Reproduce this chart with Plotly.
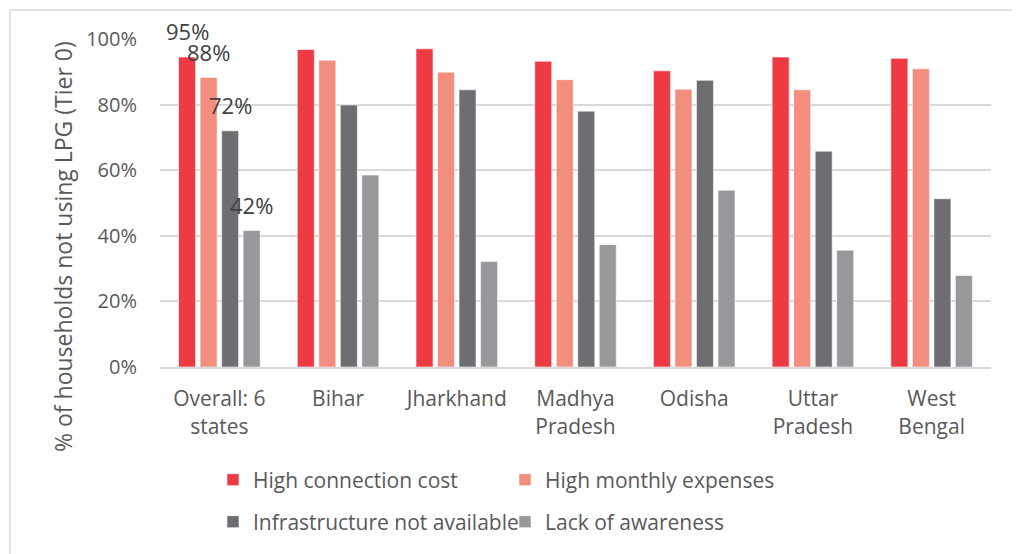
import plotly.graph_objects as go

categories = ["Overall: 6<br>states", "Bihar", "Jharkhand", "Madhya<br>Pradesh",
              "Odisha", "Uttar<br>Pradesh", "West<br>Bengal"]
series_names = ["High connection cost", "High monthly expenses",
                "Infrastructure not available", "Lack of awareness"]
high_connection_cost = [94.5, 96.8, 97.0, 93.2, 90.3, 94.5, 94.1]
high_monthly_expenses = [88.3, 93.5, 89.9, 87.6, 84.7, 84.5, 90.9]
infrastructure_not_available = [72.0, 79.9, 84.5, 78.0, 87.4, 65.8, 51.3]
lack_of_awareness = [41.6, 58.5, 32.2, 37.3, 53.9, 35.6, 27.9]
overall_labels = ["95%", "88%", "72%", "42%"]
y_ticks = [0, 20, 40, 60, 80, 100]
y_tick_labels = ["0%", "20%", "40%", "60%", "80%", "100%"]

colors = ["#EE3A43", "#F28E7D", "#6D6E71", "#97989B"]
series_values = [high_connection_cost, high_monthly_expenses,
                 infrastructure_not_available, lack_of_awareness]
legend_ids = ["legend", "legend", "legend2", "legend2"]

FONT = "Open Sans"
OFF = 8  # page body margin
W, H = 1020, 554
# target screen positions of the plot area
left, right, top, bottom = 160, 991, 39, 367
ml, mt = left - OFF, top - OFF
mr, mb = W - (right - OFF), H - (bottom - OFF)
plot_w = right - left
plot_h = bottom - top

fig = go.Figure()
for name, vals, col, lg in zip(series_names, series_values, colors, legend_ids):
    fig.add_trace(go.Bar(
        x=categories, y=vals, name=name,
        marker=dict(color=col, line=dict(color="rgba(255,255,255,0.7)", width=0.8)),
        legend=lg, hoverinfo="x+y+name",
    ))

cat_w = plot_w / len(categories)
bargap, bargroupgap = 0.275, 0.21
slot = cat_w * (1 - bargap) / 4
for i, lab in enumerate(overall_labels):
    fig.add_annotation(
        x=categories[0], y=series_values[i][0], text=lab, showarrow=False,
        xshift=(i - 1.5) * slot, yshift=25.7, yanchor="middle",
        font=dict(family=FONT, size=22, color="#404040"),
    )

fig.add_annotation(
    xref="paper", yref="paper", x=(63 - left) / plot_w, y=(bottom - 247) / plot_h,
    text="% of households not using LPG (Tier 0)", textangle=-90, showarrow=False,
    xanchor="center", yanchor="middle",
    font=dict(family=FONT, size=23, color="#595959"),
)

def cx(px):
    return (px - OFF) / W

def cy(py):
    return 1 - (py - OFF) / H

leg_common = dict(orientation="h", xref="container", yref="container",
                  xanchor="left", yanchor="middle", entrywidth=247,
                  font=dict(family=FONT, size=21, color="#595959"),
                  bgcolor="rgba(0,0,0,0)")

fig.update_layout(
    width=W, height=H,
    margin=dict(l=ml, r=mr, t=mt, b=mb, autoexpand=False),
    paper_bgcolor="white", plot_bgcolor="white",
    barmode="group", bargap=bargap, bargroupgap=bargroupgap,
    font=dict(family=FONT, size=21, color="#595959"),
    showlegend=True,
    legend=dict(x=cx(213), y=cy(480), **leg_common),
    legend2=dict(x=cx(213), y=cy(522), **leg_common),
    shapes=[dict(type="rect", xref="paper", yref="paper",
                 x0=(10 - left) / plot_w, x1=(1018 - left) / plot_w,
                 y0=(bottom - 600) / plot_h, y1=(bottom - 10) / plot_h,
                 line=dict(color="#D9D9D9", width=1.5), layer="below")],
)
fig.update_xaxes(showgrid=False, showline=True, linecolor="#D9D9D9", linewidth=2,
                 ticks="", ticklabelstandoff=12,
                 tickfont=dict(family=FONT, size=21, color="#595959"))
fig.update_yaxes(range=[0, 100], tickvals=y_ticks, ticktext=y_tick_labels,
                 showgrid=True, gridcolor="#D9D9D9", gridwidth=1.5,
                 zeroline=False, showline=False, ticks="", ticklabelstandoff=22,
                 tickfont=dict(family=FONT, size=20, color="#595959"))

fig.write_html("out.html")
